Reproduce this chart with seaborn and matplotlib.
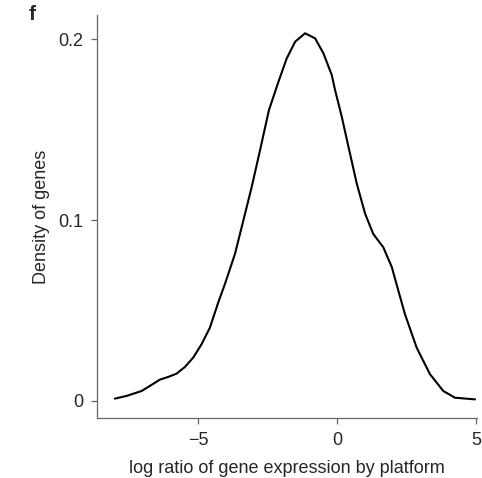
import matplotlib
matplotlib.use("Agg")
import matplotlib.pyplot as plt
import seaborn as sns
import pandas as pd

log_ratio = [-8.00, -7.58, -7.04, -6.68, -6.38, -6.08, -5.78, -5.48, -5.18, -4.88,
             -4.58, -4.28, -4.04, -3.68, -3.38, -3.08, -2.78, -2.46, -2.12, -1.82,
             -1.52, -1.16, -0.80, -0.50, -0.20, -0.08, 0.16, 0.40, 0.70, 1.00,
             1.29, 1.65, 1.96, 2.07, 2.43, 2.85, 3.33, 3.81, 4.23, 4.95]
density = [0.0013, 0.0028, 0.0055, 0.0089, 0.0118, 0.0133, 0.0151, 0.0188, 0.0240, 0.0314,
           0.0406, 0.0545, 0.0647, 0.0813, 0.0997, 0.1182, 0.1385, 0.1607, 0.1763, 0.1893,
           0.1985, 0.2032, 0.2004, 0.1921, 0.1801, 0.1717, 0.1570, 0.1404, 0.1200, 0.1034,
           0.0923, 0.0850, 0.0739, 0.0677, 0.0480, 0.0295, 0.0148, 0.0055, 0.0018, 0.0009]
x_ticks = [-5, 0, 5]
x_ticklabels = ["\u22125", "0", "5"]
y_ticks = [0, 0.1, 0.2]
y_ticklabels = ["0", "0.1", "0.2"]

sns.set_style("ticks")
plt.rcParams['font.family'] = ['Liberation Sans', 'DejaVu Sans']

df = pd.DataFrame({"x": log_ratio, "y": density})

fig = plt.figure(figsize=(4.82, 4.78), dpi=100)
ax = fig.add_axes([97/482, 60/478, (477-97)/482, (418-15)/478])
sns.lineplot(data=df, x="x", y="y", ax=ax, color="black", linewidth=1.5,
             solid_joinstyle="round", solid_capstyle="round")

ax.set_xlim(-8.64, 5.02)
ax.set_ylim(-0.0094, 0.2133)
ax.set_xticks(x_ticks)
ax.set_xticklabels(x_ticklabels)
ax.set_yticks(y_ticks)
ax.set_yticklabels(y_ticklabels)
ax.set_xlabel("log ratio of gene expression by platform", fontsize=13, labelpad=8)
ax.set_ylabel("Density of genes", fontsize=13, labelpad=6)
ax.tick_params(axis="both", labelsize=13, length=4, width=0.9, color="#666666", direction="out", pad=6)
for s in ["top", "right"]:
    ax.spines[s].set_visible(False)
for s in ["left", "bottom"]:
    ax.spines[s].set_color("#666666")
    ax.spines[s].set_linewidth(0.9)

fig.text(32/482, 1 - 14/478, "f", fontsize=15, fontweight="bold", va="center", ha="center")

fig.savefig("out.png", dpi=100)
